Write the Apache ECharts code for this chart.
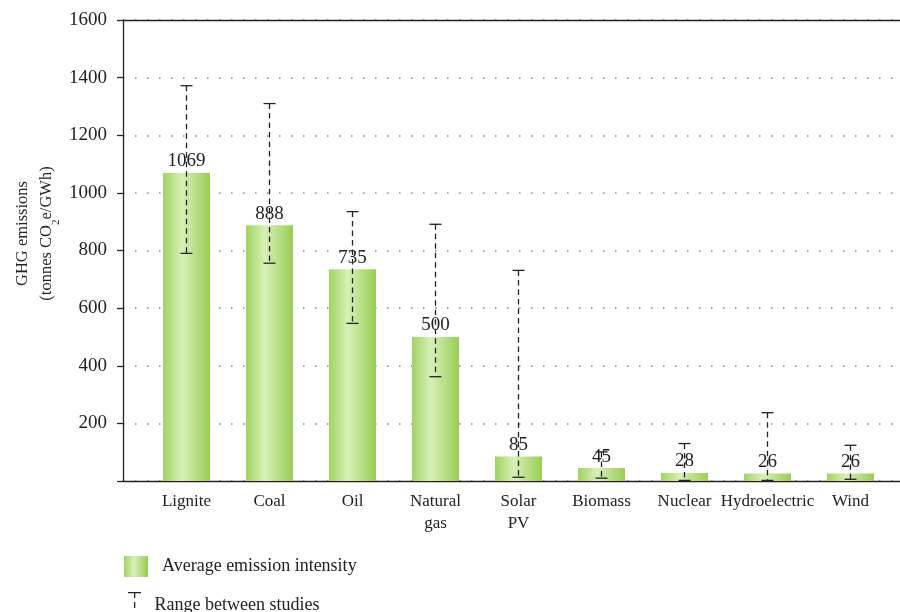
<!DOCTYPE html>
<html>
<head>
<meta charset="utf-8">
<script src="https://cdn.jsdelivr.net/npm/echarts@6/dist/echarts.min.js"></script>
<style>html,body{margin:0;padding:0;background:#fff}#c{width:900px;height:612px}</style>
</head>
<body>
<div id="c"></div>
<script>
var categories = ['Lignite', 'Coal', 'Oil', 'Natural\ngas', 'Solar\nPV', 'Biomass', 'Nuclear', 'Hydroelectric', 'Wind'];
var averages = [1069, 888, 735, 500, 85, 45, 28, 26, 26];
var rangeLow = [790, 756, 547, 362, 13, 10, 2, 2, 6];
var rangeHigh = [1372, 1310, 935, 891, 731, 101, 130, 237, 124];
var yTicks = [0, 200, 400, 600, 800, 1000, 1200, 1400, 1600];

var FONT = '"Liberation Serif", "DejaVu Serif", serif';
var errData = categories.map(function (c, i) { return [i, rangeLow[i], rangeHigh[i]]; });

var chart = echarts.init(document.getElementById('c'), null, {renderer: 'canvas'});
var barColor = new echarts.graphic.LinearGradient(0, 0, 1, 0, [
  {offset: 0, color: '#a0d362'},
  {offset: 0.4, color: '#d8f0b6'},
  {offset: 1, color: '#98cd55'}
]);

chart.setOption({
  backgroundColor: '#fff',
  animation: false,
  textStyle: {fontFamily: FONT},
  grid: [
    {left: 145, right: 8, top: 20, bottom: 131},
    {left: 123, right: 0, top: 20, bottom: 131}
  ],
  legend: [
    {
      data: [{name: 'Average emission intensity', icon: 'rect'}],
      left: 124, top: 556, padding: 0, itemWidth: 24, itemHeight: 21,
      textStyle: {fontFamily: FONT, fontSize: 18, color: '#222', padding: [0, 0, 0, 9]}
    },
    {
      data: [{name: 'Range between studies',
              icon: 'path://M0,0h13v1.3h-13z M6,0h1.3v6h-1.3z M6,10h1.3v6h-1.3z M6,20h1.3v6h-1.3z'}],
      left: 128, top: 592, padding: 0, itemWidth: 14, itemHeight: 26,
      itemStyle: {color: '#222'},
      textStyle: {fontFamily: FONT, fontSize: 18, color: '#222', padding: [0, 0, 0, 8]}
    }
  ],
  xAxis: [
    {
      type: 'category', gridIndex: 0, data: categories,
      axisLine: {show: false}, axisTick: {show: false},
      axisLabel: {fontFamily: FONT, fontSize: 17, color: '#222', margin: 10, lineHeight: 22, interval: 0}
    },
    {
      type: 'value', gridIndex: 1, min: 0, max: 1, position: 'bottom',
      axisLine: {show: true, lineStyle: {color: '#222', width: 1.3}},
      axisTick: {show: false}, axisLabel: {show: false}, splitLine: {show: false}
    },
    {
      type: 'value', gridIndex: 1, min: 0, max: 1, position: 'top',
      axisLine: {show: true, onZero: false, lineStyle: {color: '#222', width: 1.3}},
      axisTick: {show: false}, axisLabel: {show: false}, splitLine: {show: false}
    }
  ],
  yAxis: [
    {
      type: 'value', gridIndex: 0, min: yTicks[0], max: yTicks[yTicks.length - 1], interval: 200, show: false
    },
    {
      type: 'value', gridIndex: 1, min: yTicks[0], max: yTicks[yTicks.length - 1], interval: 200,
      axisLine: {show: true, lineStyle: {color: '#222', width: 1.3}},
      axisTick: {show: true, inside: false, length: 6, lineStyle: {color: '#222', width: 1.3}},
      axisLabel: {
        fontFamily: FONT, fontSize: 19, color: '#222', margin: 16,
        formatter: function (v) { return v === 0 ? '' : String(v); }
      },
      splitLine: {show: true, lineStyle: {color: '#888', width: 1.5, type: [1.5, 10.5], dashOffset: -12}},
      name: '{a|GHG emissions}\n{a|(tonnes CO}{sub|2}{a|e/GWh)}',
      nameLocation: 'middle', nameGap: 64, nameRotate: 90, nameMoveOverlap: false,
      nameTextStyle: {
        fontFamily: FONT, color: '#222', lineHeight: 24, padding: [0, 0, 0, 34],
        rich: {
          a: {fontFamily: FONT, fontSize: 16.5, color: '#222', lineHeight: 24},
          sub: {fontFamily: FONT, fontSize: 11, color: '#222', lineHeight: 24, verticalAlign: 'bottom', padding: [0, 0, -3, 0]}
        }
      }
    }
  ],
  series: [
    {
      name: 'Average emission intensity',
      type: 'bar', xAxisIndex: 0, yAxisIndex: 0,
      data: averages, barWidth: 47,
      itemStyle: {color: barColor},
      label: {show: true, position: 'top', distance: 2, fontFamily: FONT, fontSize: 19, color: '#222'},
      z: 2
    },
    {
      name: 'Range between studies',
      type: 'custom', xAxisIndex: 0, yAxisIndex: 0,
      data: errData, z: 5,
      itemStyle: {color: '#222'},
      renderItem: function (params, api) {
        var x = api.coord([api.value(0), 0])[0];
        var lo = api.coord([api.value(0), api.value(1)])[1];
        var hi = api.coord([api.value(0), api.value(2)])[1];
        var hw = 6;
        var st = {stroke: '#222', lineWidth: 1.3};
        return {
          type: 'group',
          children: [
            {type: 'line', shape: {x1: x, y1: hi, x2: x, y2: lo},
             style: {stroke: '#222', lineWidth: 1.3, lineDash: [5.5, 4]}},
            {type: 'line', shape: {x1: x - hw, y1: hi, x2: x + hw, y2: hi}, style: st},
            {type: 'line', shape: {x1: x - hw, y1: lo, x2: x + hw, y2: lo}, style: st}
          ]
        };
      }
    }
  ]
});
</script>
</body>
</html>
